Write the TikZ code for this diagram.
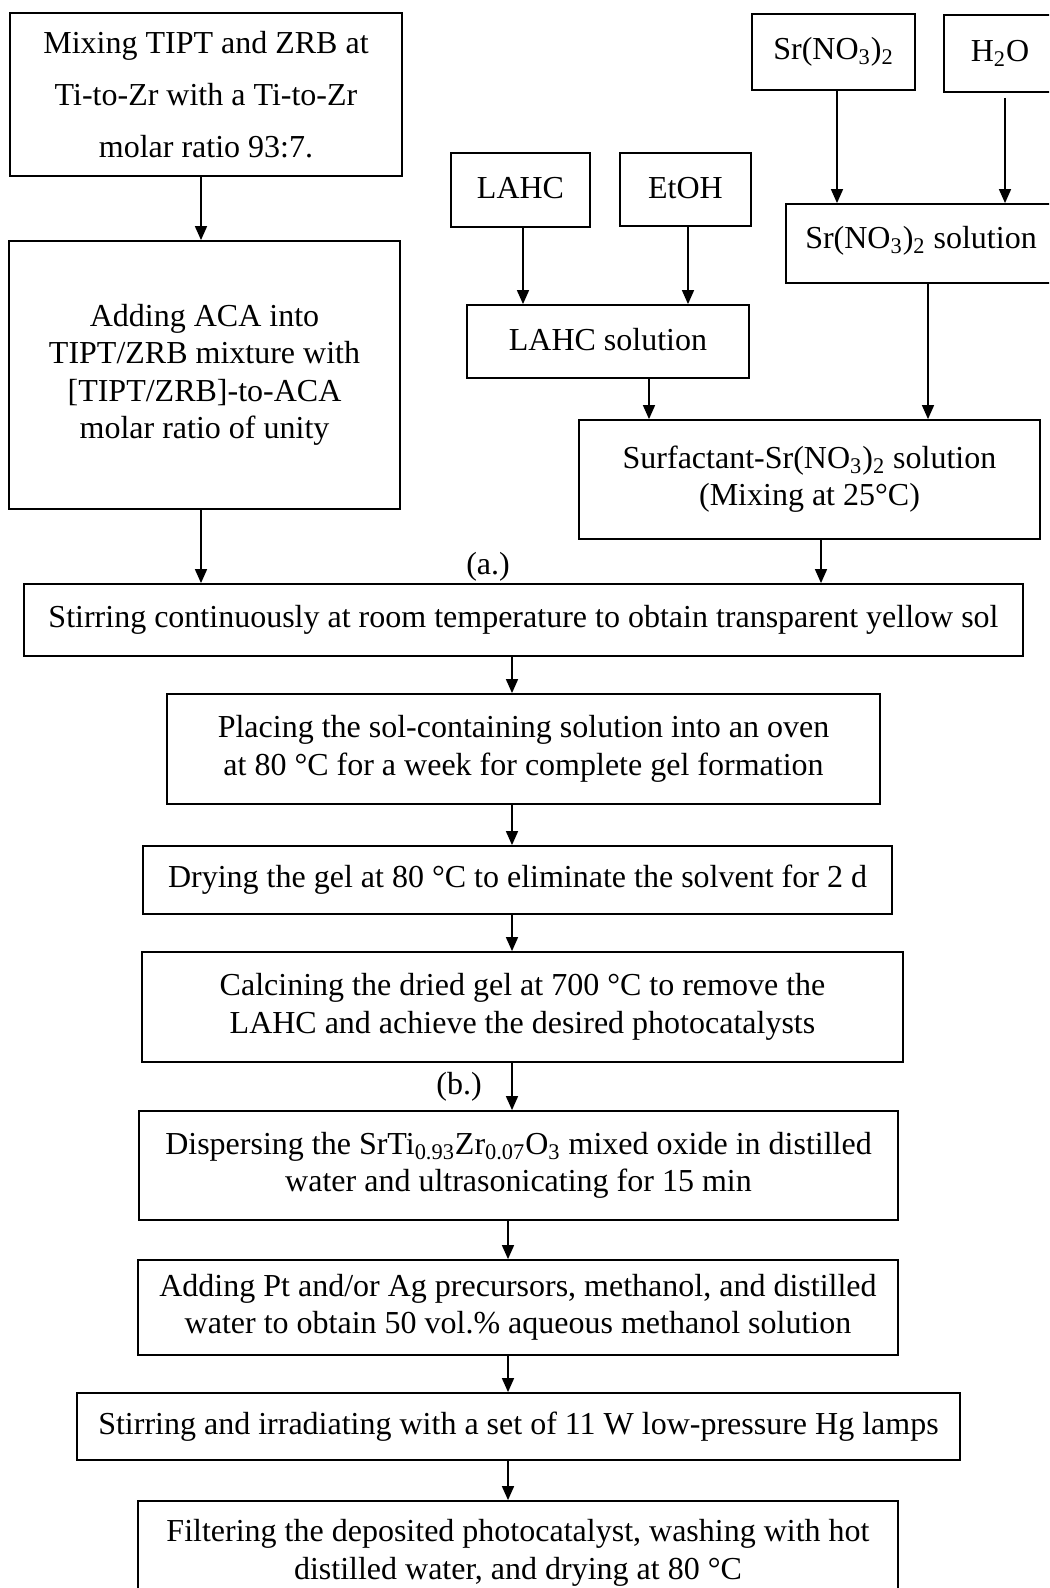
\documentclass[tikz,border=0pt]{standalone}
\usepackage{fontspec}
\setmainfont{Liberation Serif}
\usetikzlibrary{arrows.meta}
\tikzset{
  bx/.style={draw, line width=0.9pt, align=center, inner sep=0pt,
    font=\fontsize{16pt}{18.7pt}\selectfont},
  arr/.style={line width=0.8pt, -{Triangle[length=7pt,width=6pt]}},
  lbl/.style={inner sep=0pt, font=\fontsize{16pt}{18.7pt}\selectfont}
}
\begin{document}
\begin{tikzpicture}[x=0.5pt,y=-0.5pt]
\useasboundingbox (0,0) rectangle (1049,1588);
\fill[white] (0,0) rectangle (1049,1588);
\clip (0,0) rectangle (1049,1588);

\node[bx, minimum width=196pt, minimum height=81.5pt,
  font=\fontsize{16pt}{26pt}\selectfont] (mix) at (206,94.5)
  {Mixing TIPT and ZRB at\\Ti-to-Zr with a Ti-to-Zr\\molar ratio 93:7.};
\node[bx, minimum width=195.5pt, minimum height=134pt] (aca) at (204.5,375)
  {Adding ACA into\\TIPT/ZRB mixture with\\{}[TIPT/ZRB]-to-ACA\\molar ratio of unity};
\node[bx, minimum width=69.5pt, minimum height=37pt] (lahc) at (520.5,190)
  {\raisebox{2pt}{LAHC}};
\node[bx, minimum width=65.5pt, minimum height=36.5pt] (etoh) at (685.5,189.5)
  {\raisebox{2pt}{EtOH}};
\node[bx, minimum width=81.5pt, minimum height=38pt] (srno) at (833.5,52)
  {Sr(NO\textsubscript{3})\textsubscript{2}};
\node[bx, minimum width=56pt, minimum height=38.5pt] (h2o) at (1000,53.5)
  {H\textsubscript{2}O};
\node[bx, minimum width=135pt, minimum height=39.5pt] (srsol) at (921,243.5)
  {\raisebox{6pt}{Sr(NO\textsubscript{3})\textsubscript{2} solution}};
\node[bx, minimum width=141pt, minimum height=36.5pt] (lahcsol) at (608,341.5)
  {\raisebox{2pt}{LAHC solution}};
\node[bx, minimum width=230.5pt, minimum height=59.5pt] (surf) at (809.5,479.5)
  {\raisebox{4pt}{\begin{tabular}{@{}c@{}}Surfactant-Sr(NO\textsubscript{3})\textsubscript{2} solution\\(Mixing at 25°C)\end{tabular}}};
\node[bx, minimum width=499.5pt, minimum height=36pt] (stir) at (523.5,620)
  {Stirring continuously at room temperature to obtain transparent yellow sol};
\node[bx, minimum width=356.5pt, minimum height=55pt] (place) at (523.5,749)
  {Placing the sol-containing solution into an oven\\at 80 °C for a week for complete gel formation};
\node[bx, minimum width=374.5pt, minimum height=34pt] (dry) at (517.5,880)
  {Drying the gel at 80 °C to eliminate the solvent for 2 d};
\node[bx, minimum width=380.5pt, minimum height=55pt] (calc) at (522.5,1007)
  {Calcining the dried gel at 700 °C to remove the\\LAHC and achieve the desired photocatalysts};
\node[bx, minimum width=379.5pt, minimum height=54.5pt] (disp) at (518.5,1165.5)
  {Dispersing the SrTi\textsubscript{0.93}Zr\textsubscript{0.07}O\textsubscript{3} mixed oxide in distilled\\water and ultrasonicating for 15 min};
\node[bx, minimum width=380pt, minimum height=47.5pt] (addpt) at (518,1307.5)
  {Adding Pt and/or Ag precursors, methanol, and distilled\\water to obtain 50 vol.\% aqueous methanol solution};
\node[bx, minimum width=441.5pt, minimum height=33.5pt] (stirirr) at (518.5,1426.5)
  {Stirring and irradiating with a set of 11 W low-pressure Hg lamps};
\node[bx, minimum width=380pt, minimum height=52pt] (filt) at (518,1553)
  {Filtering the deposited photocatalyst, washing with hot\\distilled water, and drying at 80 °C};

\node[lbl] (la) at (488,567) {(a.)};
\node[lbl] (lb) at (459,1087) {(b.)};

\coordinate (c1) at (201,0);
\coordinate (c2) at (523,0);
\coordinate (c3) at (688,0);
\coordinate (c4) at (837,0);
\coordinate (c5) at (1005,0);
\coordinate (c6) at (649,0);
\coordinate (c7) at (928,0);
\coordinate (c8) at (821,0);
\coordinate (c9) at (512,0);
\coordinate (c10) at (508,0);

\draw[arr] (mix.south -| c1) -- (aca.north -| c1);
\draw[arr] (lahc.south -| c2) -- (lahcsol.north -| c2);
\draw[arr] (etoh.south -| c3) -- (lahcsol.north -| c3);
\draw[arr] (srno.south -| c4) -- (srsol.north -| c4);
\draw[arr] ([yshift=-2.5pt]h2o.south -| c5) -- (srsol.north -| c5);
\draw[arr] (lahcsol.south -| c6) -- (surf.north -| c6);
\draw[arr] (srsol.south -| c7) -- (surf.north -| c7);
\draw[arr] (aca.south -| c1) -- (stir.north -| c1);
\draw[arr] (surf.south -| c8) -- (stir.north -| c8);
\draw[arr] (stir.south -| c9) -- (place.north -| c9);
\draw[arr] (place.south -| c9) -- (dry.north -| c9);
\draw[arr] (dry.south -| c9) -- (calc.north -| c9);
\draw[arr] (calc.south -| c9) -- (disp.north -| c9);
\draw[arr] (disp.south -| c10) -- (addpt.north -| c10);
\draw[arr] (addpt.south -| c10) -- (stirirr.north -| c10);
\draw[arr] (stirirr.south -| c10) -- (filt.north -| c10);
\end{tikzpicture}
\end{document}
